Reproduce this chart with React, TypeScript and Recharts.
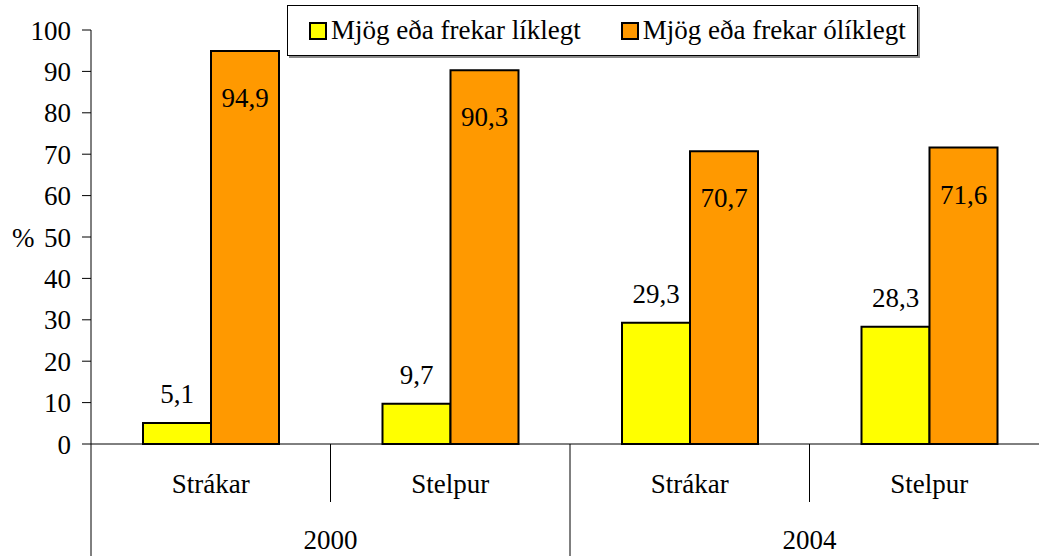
import React from 'react';
import { BarChart, Bar, XAxis, YAxis, Legend, LabelList, Label } from 'recharts';

const groups = ['Strákar', 'Stelpur', 'Strákar', 'Stelpur'];
const years = ['2000', '2000', '2004', '2004'];
const likely = [5.1, 9.7, 29.3, 28.3];
const unlikely = [94.9, 90.3, 70.7, 71.6];
const yTicks = [0, 10, 20, 30, 40, 50, 60, 70, 80, 90, 100];

const seriesNames = {
  likely: 'Mjög eða frekar líklegt',
  unlikely: 'Mjög eða frekar ólíklegt',
};

const data = groups.map((g, i) => ({
  group: g,
  year: years[i],
  likely: likely[i],
  unlikely: unlikely[i],
}));

const FONT = '"Liberation Serif", "Times New Roman", serif';
const FS = 27;
const CHART_W = 1060;
const CHART_H = 556;
const MARGIN = { top: 30, right: 11, bottom: 0, left: 0 };
const Y_W = 91;
const X_H = 112;
const PLOT_W = CHART_W - MARGIN.left - MARGIN.right - Y_W;

const fmt = (v: number) => v.toFixed(1).replace('.', ',');

// two-level category axis: sex on the first row, year underneath
const XTick = (props: any) => {
  const { x, y, payload, index } = props;
  const band = PLOT_W / groups.length;
  const right = x + band / 2;
  const left = x - band / 2;
  const endOfYear = index % 2 === 1;
  return (
    <g>
      <text x={x} y={y + 49} textAnchor="middle" fontSize={FS} fontFamily={FONT} fill="#000">
        {payload.value}
      </text>
      <line x1={right} x2={right} y1={y} y2={endOfYear ? y + X_H : y + 58} stroke="#000" />
      {index === 0 && <line x1={left} x2={left} y1={y} y2={y + X_H} stroke="#000" />}
      {index % 2 === 0 && (
        <text x={right} y={y + 105} textAnchor="middle" fontSize={FS} fontFamily={FONT} fill="#000">
          {years[index]}
        </text>
      )}
    </g>
  );
};

const topLabel = (props: any) => {
  const { x, y, width, value } = props;
  return (
    <text x={x + width / 2} y={y - 20} textAnchor="middle" fontSize={FS} fontFamily={FONT} fill="#000">
      {fmt(value)}
    </text>
  );
};

const insideLabel = (props: any) => {
  const { x, y, width, value } = props;
  return (
    <text x={x + width / 2} y={y + 56} textAnchor="middle" fontSize={FS} fontFamily={FONT} fill="#000">
      {fmt(value)}
    </text>
  );
};

const renderLegend = (props: any) => {
  const { payload } = props;
  return (
    <div
      style={{
        width: 631,
        height: 51,
        boxSizing: 'border-box',
        border: '1px solid #000',
        boxShadow: '2px 2px 0 #8a8a8a',
        background: '#fff',
        display: 'flex',
        alignItems: 'center',
        paddingLeft: 21,
        fontFamily: FONT,
        fontSize: FS,
        color: '#000',
      }}
    >
      {(payload || []).map((entry: any, i: number) => (
        <div key={i} style={{ display: 'flex', alignItems: 'center', marginRight: 40 }}>
          <span
            style={{
              display: 'inline-block',
              width: 14,
              height: 14,
              border: '2px solid #000',
              background: entry.color,
              marginRight: 4,
            }}
          />
          <span style={{ whiteSpace: 'nowrap' }}>{entry.value}</span>
        </div>
      ))}
    </div>
  );
};

export default function App() {
  return (
    <div
      style={{
        position: 'absolute',
        left: 0,
        top: 0,
        width: 1039,
        height: 556,
        overflow: 'hidden',
        background: '#fff',
      }}
    >
      <BarChart
        width={CHART_W}
        height={CHART_H}
        data={data}
        margin={MARGIN}
        barGap={0}
      >
        <XAxis
          dataKey="group"
          height={X_H}
          axisLine={{ stroke: '#000' }}
          tickLine={false}
          tickSize={0}
          tickMargin={0}
          tick={<XTick />}
          interval={0}
        />
        <YAxis
          width={Y_W}
          domain={[0, 100]}
          ticks={yTicks}
          interval={0}
          axisLine={{ stroke: '#000' }}
          tickLine={{ stroke: '#000' }}
          tickSize={9}
          tickMargin={11}
          tick={{ fill: '#000', fontSize: FS, fontFamily: FONT }}
        >
          <Label
            value="%"
            position="insideLeft"
            offset={12}
            style={{ fill: '#000', fontSize: FS, fontFamily: FONT }}
          />
        </YAxis>
        <Legend
          layout="horizontal"
          verticalAlign="middle"
          align="center"
          content={renderLegend}
          wrapperStyle={{ left: 287, top: 5, width: 'auto', height: 'auto' }}
        />
        <Bar
          dataKey="likely"
          name={seriesNames.likely}
          fill="#FFFF00"
          stroke="#000"
          strokeWidth={2}
          barSize={68}
          isAnimationActive={false}
        >
          <LabelList dataKey="likely" content={topLabel} />
        </Bar>
        <Bar
          dataKey="unlikely"
          name={seriesNames.unlikely}
          fill="#FF9900"
          stroke="#000"
          strokeWidth={2}
          barSize={68}
          isAnimationActive={false}
        >
          <LabelList dataKey="unlikely" content={insideLabel} />
        </Bar>
      </BarChart>
    </div>
  );
}
